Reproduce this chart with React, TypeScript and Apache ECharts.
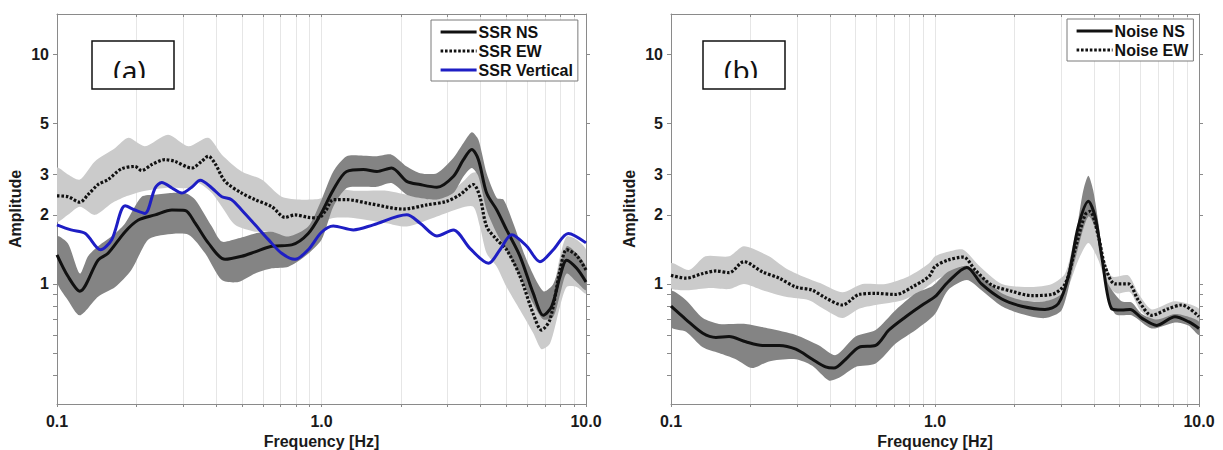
import React, { useEffect, useRef } from "react";
import * as echarts from "echarts";

// ---------- axis ticks ----------
const X_TICKS = [0.1, 0.2, 0.3, 0.4, 0.5, 0.6, 0.7, 0.8, 0.9, 1, 2, 3, 4, 5, 6, 7, 8, 9, 10];
const X_LABELS = [0.1, 1, 10];
const Y_TICKS = [0.4, 0.5, 0.6, 0.7, 0.8, 0.9, 1, 2, 3, 5, 10];
const Y_LABELS = [1, 2, 3, 5, 10];

// ---------- panel (a) : SSR ----------
const SSR_NS: [number, number][] = [
  [0.1, 1.34], [0.11, 1.08], [0.122, 0.93], [0.143, 1.27], [0.156, 1.36], [0.181, 1.69], [0.203, 1.9],
  [0.235, 2.0], [0.272, 2.1], [0.305, 2.09], [0.333, 1.84], [0.373, 1.51], [0.432, 1.28], [0.499, 1.32],
  [0.561, 1.38], [0.649, 1.46], [0.771, 1.48], [0.891, 1.66], [1.0, 2.04], [1.108, 2.57], [1.245, 3.09],
  [1.44, 3.15], [1.62, 3.09], [1.84, 3.2], [2.1, 2.8], [2.36, 2.71], [2.73, 2.64], [3.15, 2.94],
  [3.44, 3.48], [3.7, 3.85], [3.92, 3.48], [4.21, 2.49], [4.6, 2.1], [5.01, 1.72], [5.63, 1.32],
  [6.32, 0.91], [6.9, 0.73], [7.42, 0.8], [7.98, 1.08], [8.45, 1.27], [9.22, 1.17], [10, 1.02],
];
const SSR_NS_UPPER: [number, number][] = [
  [0.1, 1.61], [0.11, 1.5], [0.122, 1.11], [0.131, 1.32], [0.143, 1.46], [0.166, 1.66], [0.181, 1.84],
  [0.209, 2.4], [0.235, 2.45], [0.272, 2.49], [0.305, 2.49], [0.333, 2.33], [0.385, 1.78], [0.42, 1.53],
  [0.485, 1.58], [0.561, 1.66], [0.649, 1.69], [0.75, 1.61], [0.891, 1.78], [1.0, 2.33], [1.108, 3.09],
  [1.245, 3.6], [1.44, 3.62], [1.62, 3.6], [1.84, 3.66], [2.1, 3.25], [2.36, 3.04], [2.73, 3.04],
  [3.15, 3.54], [3.44, 4.11], [3.7, 4.58], [3.92, 4.25], [4.21, 3.04], [4.6, 2.37], [4.88, 2.33],
  [5.31, 1.84], [5.97, 1.27], [6.9, 0.93], [7.52, 1.0], [8.45, 1.46], [9.22, 1.36], [10, 1.19],
];
const SSR_NS_LOWER: [number, number][] = [
  [0.1, 1.02], [0.11, 0.85], [0.122, 0.73], [0.143, 0.88], [0.166, 0.97], [0.191, 1.15], [0.221, 1.56],
  [0.256, 1.64], [0.314, 1.64], [0.363, 1.36], [0.42, 1.04], [0.485, 1.02], [0.561, 1.11], [0.649, 1.17],
  [0.75, 1.19], [0.866, 1.32], [1.0, 1.56], [1.108, 2.17], [1.245, 2.62], [1.44, 2.65], [1.62, 2.65],
  [1.84, 2.75], [2.1, 2.45], [2.36, 2.37], [2.73, 2.33], [3.15, 2.49], [3.44, 2.94], [3.7, 3.2],
  [3.92, 2.94], [4.21, 2.1], [4.6, 1.66], [5.01, 1.41], [5.63, 1.08], [6.32, 0.82], [6.9, 0.7],
  [7.52, 0.72], [7.98, 0.9], [8.45, 1.11], [9.22, 1.02], [10, 0.94],
];
const SSR_EW: [number, number][] = [
  [0.1, 2.42], [0.11, 2.4], [0.122, 2.27], [0.131, 2.45], [0.143, 2.71], [0.156, 2.85], [0.175, 3.17],
  [0.197, 3.25], [0.209, 3.12], [0.228, 3.31], [0.256, 3.48], [0.279, 3.42], [0.323, 3.2], [0.352, 3.42],
  [0.373, 3.6], [0.395, 3.36], [0.432, 2.8], [0.499, 2.49], [0.561, 2.33], [0.649, 2.17], [0.728, 1.95],
  [0.794, 2.0], [0.891, 1.95], [0.973, 1.94], [1.04, 2.1], [1.108, 2.33], [1.245, 2.33], [1.52, 2.24],
  [2.04, 2.12], [2.5, 2.21], [2.97, 2.29], [3.34, 2.45], [3.75, 2.71], [3.97, 2.4], [4.21, 1.78],
  [4.6, 1.56], [5.01, 1.41], [5.63, 1.08], [6.32, 0.74], [6.79, 0.63], [7.31, 0.7], [7.98, 1.15],
  [8.45, 1.41], [9.22, 1.33], [10, 1.15],
];
const SSR_EW_UPPER: [number, number][] = [
  [0.1, 3.2], [0.11, 3.0], [0.122, 2.85], [0.139, 3.42], [0.166, 3.91], [0.186, 4.33], [0.215, 3.98],
  [0.263, 4.47], [0.314, 3.98], [0.373, 4.33], [0.42, 3.66], [0.499, 3.09], [0.594, 2.85], [0.707, 2.4],
  [0.842, 2.33], [1.0, 2.36], [1.108, 2.6], [1.32, 2.55], [1.76, 2.55], [2.1, 2.45], [2.73, 2.33],
  [3.15, 2.57], [3.44, 2.8], [3.7, 3.04], [3.97, 3.04], [4.21, 2.49], [4.6, 2.1], [5.01, 1.66],
  [5.63, 1.32], [6.32, 0.97], [6.9, 0.88], [7.52, 0.97], [7.98, 1.32], [8.45, 1.61], [9.22, 1.56], [10, 1.41],
];
const SSR_EW_LOWER: [number, number][] = [
  [0.1, 1.87], [0.11, 2.0], [0.122, 2.17], [0.139, 2.0], [0.161, 2.25], [0.181, 2.4], [0.209, 2.53],
  [0.256, 2.62], [0.314, 2.62], [0.342, 2.75], [0.385, 2.49], [0.42, 2.17], [0.471, 1.81], [0.561, 1.69],
  [0.649, 1.69], [0.75, 1.56], [0.891, 1.61], [1.0, 1.85], [1.108, 1.94], [1.32, 1.94], [1.76, 1.84],
  [2.1, 1.78], [2.73, 1.97], [3.34, 2.14], [3.75, 2.17], [3.97, 1.78], [4.21, 1.36], [4.6, 1.19],
  [5.01, 0.97], [5.63, 0.77], [6.32, 0.61], [6.79, 0.52], [7.31, 0.55], [7.98, 0.8], [8.45, 0.97],
  [9.22, 0.97], [10, 0.91],
];
const SSR_VERTICAL: [number, number][] = [
  [0.1, 1.81], [0.113, 1.72], [0.128, 1.66], [0.146, 1.41], [0.161, 1.56], [0.181, 2.19], [0.197, 2.1],
  [0.215, 2.03], [0.235, 2.62], [0.249, 2.77], [0.272, 2.62], [0.296, 2.49], [0.323, 2.64], [0.348, 2.83],
  [0.385, 2.62], [0.42, 2.4], [0.457, 2.33], [0.499, 2.1], [0.561, 1.81], [0.63, 1.56], [0.707, 1.36],
  [0.794, 1.28], [0.891, 1.41], [1.0, 1.68], [1.108, 1.79], [1.32, 1.72], [1.57, 1.81], [2.1, 2.0],
  [2.36, 1.84], [2.73, 1.62], [3.15, 1.72], [3.64, 1.43], [4.28, 1.23], [4.73, 1.41], [5.24, 1.64],
  [5.97, 1.46], [6.7, 1.25], [7.52, 1.41], [8.57, 1.66], [10, 1.51],
];

// ---------- panel (b) : Noise ----------
const NOISE_NS: [number, number][] = [
  [0.1, 0.8], [0.114, 0.7], [0.132, 0.61], [0.148, 0.585], [0.166, 0.59], [0.192, 0.56], [0.222, 0.54],
  [0.257, 0.54], [0.297, 0.52], [0.343, 0.47], [0.385, 0.435], [0.414, 0.43], [0.459, 0.47], [0.515, 0.53],
  [0.596, 0.54], [0.669, 0.63], [0.775, 0.72], [0.895, 0.81], [1.0, 0.88], [1.12, 1.02], [1.32, 1.18],
  [1.5, 1.0], [1.79, 0.86], [2.13, 0.8], [2.61, 0.775], [2.93, 0.82], [3.2, 1.08], [3.49, 1.78],
  [3.81, 2.29], [4.04, 1.97], [4.28, 1.32], [4.67, 0.78], [5.09, 0.77], [5.48, 0.775], [6.07, 0.71],
  [6.92, 0.66], [8.11, 0.72], [9.12, 0.685], [10, 0.64],
];
const NOISE_NS_UPPER: [number, number][] = [
  [0.1, 0.93], [0.114, 0.85], [0.132, 0.71], [0.152, 0.67], [0.192, 0.67], [0.235, 0.64], [0.297, 0.6],
  [0.364, 0.54], [0.421, 0.49], [0.5, 0.59], [0.596, 0.63], [0.71, 0.77], [0.845, 0.91], [0.978, 0.98],
  [1.12, 1.13], [1.32, 1.2], [1.5, 1.08], [1.79, 0.91], [2.13, 0.85], [2.61, 0.84], [3.02, 0.91],
  [3.39, 1.51], [3.49, 1.9], [3.65, 2.57], [3.81, 2.96], [3.97, 2.57], [4.16, 1.84], [4.34, 1.27],
  [4.53, 1.0], [5.09, 0.84], [5.56, 0.83], [6.07, 0.74], [6.92, 0.7], [8.11, 0.74], [9.12, 0.72], [10, 0.685],
];
const NOISE_NS_LOWER: [number, number][] = [
  [0.1, 0.65], [0.114, 0.62], [0.132, 0.53], [0.152, 0.5], [0.176, 0.47], [0.203, 0.43], [0.235, 0.46],
  [0.297, 0.47], [0.343, 0.44], [0.396, 0.38], [0.433, 0.39], [0.5, 0.435], [0.596, 0.45], [0.71, 0.55],
  [0.845, 0.63], [1.0, 0.74], [1.12, 0.94], [1.32, 1.04], [1.5, 0.94], [1.79, 0.8], [2.13, 0.74],
  [2.61, 0.71], [3.02, 0.77], [3.39, 1.27], [3.81, 1.97], [4.16, 1.61], [4.41, 1.0], [4.81, 0.74],
  [5.56, 0.73], [6.62, 0.64], [8.11, 0.68], [9.12, 0.66], [10, 0.6],
];
const NOISE_EW: [number, number][] = [
  [0.1, 1.09], [0.114, 1.06], [0.132, 1.11], [0.148, 1.14], [0.166, 1.12], [0.189, 1.25], [0.222, 1.13],
  [0.257, 1.06], [0.297, 0.97], [0.343, 0.94], [0.385, 0.87], [0.446, 0.81], [0.515, 0.9], [0.596, 0.91],
  [0.71, 0.9], [0.82, 0.97], [0.95, 1.08], [1.0, 1.19], [1.12, 1.27], [1.28, 1.31], [1.42, 1.15],
  [1.64, 0.99], [1.95, 0.93], [2.32, 0.89], [2.77, 0.9], [3.11, 1.0], [3.39, 1.41], [3.7, 2.0],
  [3.86, 2.07], [4.16, 1.61], [4.41, 1.19], [4.81, 1.0], [5.4, 1.0], [5.89, 0.85], [6.62, 0.73],
  [7.65, 0.78], [8.6, 0.81], [10, 0.72],
];
const NOISE_EW_UPPER: [number, number][] = [
  [0.1, 1.23], [0.117, 1.15], [0.135, 1.32], [0.166, 1.32], [0.189, 1.46], [0.235, 1.32], [0.272, 1.17],
  [0.314, 1.08], [0.374, 1.0], [0.446, 0.92], [0.531, 1.0], [0.65, 1.0], [0.797, 1.08], [0.95, 1.23],
  [1.0, 1.32], [1.12, 1.38], [1.28, 1.41], [1.46, 1.21], [1.79, 1.0], [2.32, 0.97], [2.77, 1.0],
  [3.11, 1.11], [3.39, 1.61], [3.7, 2.25], [3.97, 2.25], [4.28, 1.41], [4.67, 1.08], [5.4, 1.09],
  [5.89, 0.91], [6.62, 0.775], [8.11, 0.84], [10, 0.78],
];
const NOISE_EW_LOWER: [number, number][] = [
  [0.1, 0.96], [0.117, 0.94], [0.139, 0.96], [0.166, 0.95], [0.189, 1.0], [0.222, 0.94], [0.272, 0.88],
  [0.333, 0.85], [0.385, 0.77], [0.446, 0.71], [0.515, 0.78], [0.596, 0.81], [0.752, 0.85], [0.895, 0.94],
  [1.01, 1.04], [1.12, 1.11], [1.28, 1.2], [1.46, 1.08], [1.79, 0.88], [2.32, 0.84], [2.77, 0.85],
  [3.11, 0.91], [3.49, 1.27], [3.81, 1.51], [4.16, 1.27], [4.47, 1.0], [4.88, 0.91], [5.48, 0.92],
  [5.98, 0.77], [6.81, 0.685], [8.11, 0.72], [10, 0.68],
];

const FONT = '"Liberation Sans", Arial, sans-serif';
const AXIS_GREY = "#8a8a8a";
const DARK_BAND = "#848484";
const LIGHT_BAND = "#cbcbcb";
const BLUE = "#1e1ec4";

function xAxis(gridIndex: number, position: "bottom" | "top") {
  const bottom = position === "bottom";
  return {
    type: "log",
    logBase: 10,
    min: 0.1,
    max: 10,
    gridIndex,
    position,
    name: bottom ? "Frequency [Hz]" : "",
    nameLocation: "middle",
    nameGap: 25,
    nameTextStyle: { fontFamily: FONT, fontWeight: "bold", fontSize: 16, color: "#1a1a1a" },
    axisLine: { show: true, lineStyle: { color: AXIS_GREY, width: 1 } },
    axisTick: { show: true, customValues: X_TICKS, length: 3, inside: !bottom, lineStyle: { color: AXIS_GREY } },
    axisLabel: {
      show: bottom,
      customValues: X_LABELS,
      formatter: (v: number) => Number(v).toFixed(1),
      fontFamily: FONT,
      fontWeight: "bold",
      fontSize: 16,
      color: "#1a1a1a",
      margin: 9,
    },
    splitLine: { show: bottom, lineStyle: { color: "#e6e6e6", width: 1 } },
    minorTick: { show: false },
    minorSplitLine: { show: false },
  };
}

function yAxis(gridIndex: number, position: "left" | "right") {
  const left = position === "left";
  return {
    type: "log",
    logBase: 10,
    min: 0.3,
    max: 15,
    gridIndex,
    position,
    name: left ? "Amplitude" : "",
    nameLocation: "middle",
    nameGap: 34,
    nameTextStyle: { fontFamily: FONT, fontWeight: "bold", fontSize: 16, color: "#1a1a1a" },
    axisLine: { show: true, lineStyle: { color: AXIS_GREY, width: 1 } },
    axisTick: { show: true, customValues: Y_TICKS, length: 4, lineStyle: { color: AXIS_GREY } },
    axisLabel: {
      show: left,
      customValues: Y_LABELS,
      formatter: (v: number) => String(Math.round(v)),
      fontFamily: FONT,
      fontWeight: "bold",
      fontSize: 16,
      color: "#1a1a1a",
      margin: 8,
    },
    splitLine: { show: false },
    minorTick: { show: false },
  };
}

function band(upper: [number, number][], lower: [number, number][], color: string, axisIndex: number, z: number) {
  const pts = upper.concat(lower.slice().reverse());
  return {
    type: "custom",
    xAxisIndex: axisIndex,
    yAxisIndex: axisIndex,
    data: pts,
    silent: true,
    clip: true,
    z,
    renderItem: (params: any, api: any) => {
      if (params.dataIndex !== 0) return null;
      const points = pts.map((p) => api.coord(p));
      return { type: "polygon", shape: { points, smooth: 0.25 }, style: { fill: color } };
    },
  };
}

function line(name: string, data: [number, number][], axisIndex: number, style: any, z: number) {
  return {
    type: "line",
    name,
    xAxisIndex: axisIndex,
    yAxisIndex: axisIndex,
    data,
    symbol: "none",
    showSymbol: false,
    smooth: 0.3,
    clip: true,
    z,
    lineStyle: style,
    itemStyle: { color: style.color },
  };
}

const SOLID = { color: "#111", width: 3 };
const DOTTED = { color: "#111", width: 3.2, type: [2.6, 1.8], cap: "butt" };
const BLUE_LINE = { color: BLUE, width: 3 };

function legend(names: string[], left: number, top: number) {
  return {
    data: names,
    orient: "vertical",
    left,
    top,
    padding: [4, 5, 3, 8],
    itemGap: 3,
    itemWidth: 36,
    itemHeight: 14,
    borderColor: "#7a7a7a",
    borderWidth: 1,
    backgroundColor: "#fff",
    selectedMode: false,
    itemStyle: { opacity: 0, borderWidth: 0 },
    lineStyle: { width: 3.2 },
    textStyle: { fontFamily: FONT, fontWeight: "bold", fontSize: 16, color: "#111", padding: [0, 0, 0, -3] },
  };
}

function panelLabel(text: string, x: number, cx: number) {
  const y = 41;
  const w = 82;
  const h = 48;
  return [
    { type: "rect", shape: { x, y, width: w, height: h }, style: { fill: "#fff", stroke: "none" }, z: 100 },
    {
      type: "text",
      x: cx,
      y: 56,
      style: { text, font: '28px "Noto Sans", "Open Sans", sans-serif', fill: "#111", textAlign: "center", textVerticalAlign: "top" },
      z: 101,
    },
    { type: "rect", shape: { x: x + 1, y: 78, width: w - 2, height: h - 38 }, style: { fill: "#fff", stroke: "none" }, z: 102 },
    { type: "rect", shape: { x, y, width: w, height: h }, style: { fill: "none", stroke: "#111", lineWidth: 1.5 }, z: 103 },
  ];
}

export default function App() {
  const ref = useRef<HTMLDivElement>(null);
  useEffect(() => {
    if (!ref.current) return;
    const chart = echarts.init(ref.current, null, { renderer: "svg" });
    chart.setOption({
      animation: false,
      backgroundColor: "#fff",
      grid: [
        { left: 57, top: 14, width: 529, height: 390, outerBoundsMode: "none", containLabel: false },
        { left: 671, top: 14, width: 528, height: 390, outerBoundsMode: "none", containLabel: false },
      ],
      xAxis: [xAxis(0, "bottom"), xAxis(0, "top"), xAxis(1, "bottom"), xAxis(1, "top")],
      yAxis: [yAxis(0, "left"), yAxis(0, "right"), yAxis(1, "left"), yAxis(1, "right")],
      legend: [
        legend(["SSR NS", "SSR EW", "SSR Vertical"], 431, 20),
        legend(["Noise NS", "Noise EW"], 1067, 19),
      ],
      series: [
        band(SSR_EW_UPPER, SSR_EW_LOWER, LIGHT_BAND, 0, 1),
        band(SSR_NS_UPPER, SSR_NS_LOWER, DARK_BAND, 0, 2),
        line("SSR EW", SSR_EW, 0, DOTTED, 3),
        line("SSR NS", SSR_NS, 0, SOLID, 4),
        line("SSR Vertical", SSR_VERTICAL, 0, BLUE_LINE, 5),
        band(NOISE_EW_UPPER, NOISE_EW_LOWER, LIGHT_BAND, 2, 1),
        band(NOISE_NS_UPPER, NOISE_NS_LOWER, DARK_BAND, 2, 2),
        line("Noise EW", NOISE_EW, 2, DOTTED, 3),
        line("Noise NS", NOISE_NS, 2, SOLID, 4),
      ],
      graphic: [...panelLabel("(a)", 92, 129.5), ...panelLabel("(b)", 703, 741)],
    });
    return () => chart.dispose();
  }, []);
  return <div ref={ref} style={{ position: "fixed", left: 0, top: 0, width: 1223, height: 450, background: "#fff" }} />;
}
